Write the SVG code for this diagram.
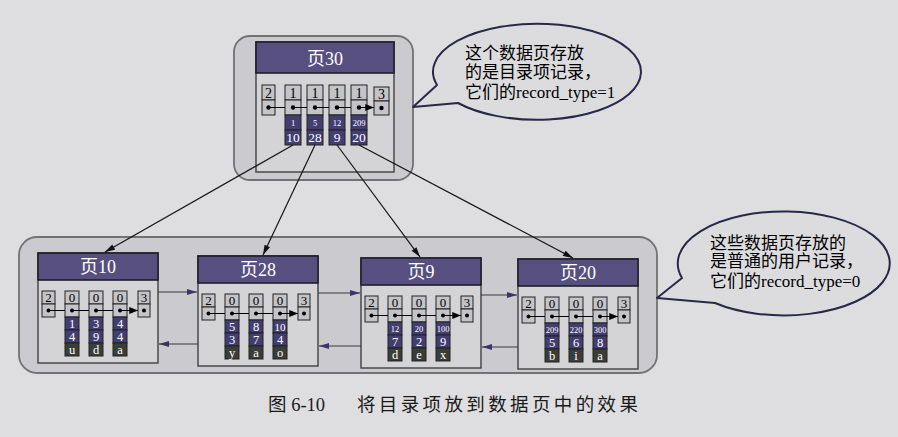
<svg xmlns="http://www.w3.org/2000/svg" width="898" height="437" viewBox="0 0 898 437">
<style>
.bg{fill:#dedee0}
.grp{fill:#cbcbcf;stroke:#727272;stroke-width:1.8}
.page{fill:#d4d4d7;stroke:#4a4a4a;stroke-width:1.5}
.hdr{fill:#574f80;stroke:#1e1e28;stroke-width:1.6}
.ttl{font-family:"Liberation Serif","Noto Sans CJK SC",serif;font-size:18px;fill:#fff;text-anchor:middle}
.c{fill:#c4c4c8;stroke:#222;stroke-width:1}
.pu{fill:#433d72;stroke:#222;stroke-width:1}
.dk{fill:#3b3d39;stroke:#222;stroke-width:1}
.n{font-family:"Liberation Serif",serif;font-size:13px;fill:#000;text-anchor:middle}
.w{font-family:"Liberation Serif",serif;font-size:12.5px;fill:#fff;text-anchor:middle}
.s{font-family:"Liberation Serif",serif;font-size:8.5px;fill:#fff;text-anchor:middle}
.d{fill:#000}
.ptr{stroke:#000;stroke-width:1.2;fill:none;marker-end:url(#pa)}
.lnk{stroke:#151515;stroke-width:1.2;fill:none;marker-end:url(#la)}
.nav{stroke:#3a3a3a;stroke-width:1.2;fill:none;marker-end:url(#na)}
.call{fill:#dcdcdf;stroke:#2a2848;stroke-width:2;stroke-linejoin:round}
.ct{font-family:"Liberation Serif","Noto Sans CJK SC",serif;font-size:17px;fill:#000}
.cap{font-family:"Liberation Serif","Noto Sans CJK SC",serif;font-size:18.5px;fill:#1a1a1a}
</style>
<defs>
<marker id="pa" viewBox="0 0 10 8" refX="10" refY="4" markerWidth="9" markerHeight="7" markerUnits="userSpaceOnUse" orient="auto"><path d="M0,0L10,4L0,8z" fill="#000"/></marker>
<marker id="la" viewBox="0 0 10 6" refX="10" refY="3" markerWidth="11" markerHeight="6" markerUnits="userSpaceOnUse" orient="auto"><path d="M0,0L10,3L0,6z" fill="#111"/></marker>
<marker id="na" viewBox="0 0 10 6" refX="10" refY="3" markerWidth="10" markerHeight="6" markerUnits="userSpaceOnUse" orient="auto"><path d="M0,0L10,3L0,6z" fill="#3b356a"/></marker>
</defs>
<rect class="bg" x="0" y="0" width="898" height="437"/>

<!-- group frames -->
<rect id="topFrame" class="grp" x="234" y="36" width="179" height="144" rx="16"/>
<rect id="bottomFrame" class="grp" x="19" y="237" width="638" height="136" rx="18"/>

<!-- page 30 -->
<g id="page30" transform="translate(256,42)">
<rect class="page" x="0" y="0" width="138" height="130"/>
<rect class="hdr" x="0" y="0" width="138" height="31"/>
<text class="ttl" x="69" y="23">页30</text>
<rect class="c" x="6" y="43" width="13" height="15"/><rect class="c" x="6" y="58" width="13" height="15"/>
<text class="n" x="12.5" y="55.5" style="font-size:14px">2</text><circle class="d" cx="12.5" cy="65.5" r="2.2"/>
<rect class="c" x="29" y="43" width="16" height="15"/><rect class="c" x="29" y="58" width="16" height="15"/><rect class="pu" x="29" y="73" width="16" height="15"/><rect class="pu" x="29" y="88" width="16" height="15"/>
<text class="n" x="37" y="55.5" style="font-size:14px">1</text><circle class="d" cx="37" cy="65.5" r="2.2"/><text class="s" x="37" y="84">1</text><text class="w" x="37" y="100" style="font-size:13.5px">10</text>
<rect class="c" x="51" y="43" width="16" height="15"/><rect class="c" x="51" y="58" width="16" height="15"/><rect class="pu" x="51" y="73" width="16" height="15"/><rect class="pu" x="51" y="88" width="16" height="15"/>
<text class="n" x="59" y="55.5" style="font-size:14px">1</text><circle class="d" cx="59" cy="65.5" r="2.2"/><text class="s" x="59" y="84">5</text><text class="w" x="59" y="100" style="font-size:13.5px">28</text>
<rect class="c" x="73" y="43" width="16" height="15"/><rect class="c" x="73" y="58" width="16" height="15"/><rect class="pu" x="73" y="73" width="16" height="15"/><rect class="pu" x="73" y="88" width="16" height="15"/>
<text class="n" x="81" y="55.5" style="font-size:14px">1</text><circle class="d" cx="81" cy="65.5" r="2.2"/><text class="s" x="81" y="84">12</text><text class="w" x="81" y="100" style="font-size:13.5px">9</text>
<rect class="c" x="95" y="43" width="16" height="15"/><rect class="c" x="95" y="58" width="16" height="15"/><rect class="pu" x="95" y="73" width="16" height="15"/><rect class="pu" x="95" y="88" width="16" height="15"/>
<text class="n" x="103" y="55.5" style="font-size:14px">1</text><circle class="d" cx="103" cy="65.5" r="2.2"/><text class="s" x="103" y="84">209</text><text class="w" x="103" y="100" style="font-size:13.5px">20</text>
<rect class="c" x="118" y="45" width="15" height="14"/><rect class="c" x="118" y="59" width="15" height="14"/>
<text class="n" x="125.5" y="57" style="font-size:14px">3</text><circle class="d" cx="125.5" cy="66" r="2.2"/>
<path class="ptr" d="M12.5,65.5H29M37,65.5H51M59,65.5H73M81,65.5H95M103,65.5H118"/>
</g>

<!-- page 10 -->
<g id="page10" transform="translate(38,253)">
<rect class="page" x="0" y="0" width="120" height="110"/>
<rect class="hdr" x="0" y="0" width="120" height="27"/>
<text class="ttl" x="60" y="20">页10</text>
<rect class="c" x="4" y="38" width="13" height="13"/><rect class="c" x="4" y="51" width="13" height="13"/>
<text class="n" x="10.5" y="49">2</text><circle class="d" cx="10.5" cy="57.5" r="2"/>
<rect class="c" x="27" y="38" width="14" height="13"/><rect class="c" x="27" y="51" width="14" height="13"/><rect class="pu" x="27" y="64" width="14" height="13"/><rect class="pu" x="27" y="77" width="14" height="13"/><rect class="dk" x="27" y="90" width="14" height="13"/>
<text class="n" x="34" y="49">0</text><circle class="d" cx="34" cy="57.5" r="2"/><text class="w" x="34" y="75">1</text><text class="w" x="34" y="88">4</text><text class="w" x="34" y="100.5">u</text>
<rect class="c" x="51" y="38" width="14" height="13"/><rect class="c" x="51" y="51" width="14" height="13"/><rect class="pu" x="51" y="64" width="14" height="13"/><rect class="pu" x="51" y="77" width="14" height="13"/><rect class="dk" x="51" y="90" width="14" height="13"/>
<text class="n" x="58" y="49">0</text><circle class="d" cx="58" cy="57.5" r="2"/><text class="w" x="58" y="75">3</text><text class="w" x="58" y="88">9</text><text class="w" x="58" y="100.5">d</text>
<rect class="c" x="75" y="38" width="14" height="13"/><rect class="c" x="75" y="51" width="14" height="13"/><rect class="pu" x="75" y="64" width="14" height="13"/><rect class="pu" x="75" y="77" width="14" height="13"/><rect class="dk" x="75" y="90" width="14" height="13"/>
<text class="n" x="82" y="49">0</text><circle class="d" cx="82" cy="57.5" r="2"/><text class="w" x="82" y="75">4</text><text class="w" x="82" y="88">4</text><text class="w" x="82" y="100.5">a</text>
<rect class="c" x="100" y="38" width="12" height="13"/><rect class="c" x="100" y="51" width="12" height="13"/>
<text class="n" x="106" y="49">3</text><circle class="d" cx="106" cy="57.5" r="2"/>
<path class="ptr" d="M10.5,57.5H27M34,57.5H51M58,57.5H75M82,57.5H100"/>
</g>

<!-- page 28 -->
<g id="page28" transform="translate(198,256)">
<rect class="page" x="0" y="0" width="120" height="110"/>
<rect class="hdr" x="0" y="0" width="120" height="27"/>
<text class="ttl" x="60" y="20">页28</text>
<rect class="c" x="4" y="38" width="13" height="13"/><rect class="c" x="4" y="51" width="13" height="13"/>
<text class="n" x="10.5" y="49">2</text><circle class="d" cx="10.5" cy="57.5" r="2"/>
<rect class="c" x="27" y="38" width="14" height="13"/><rect class="c" x="27" y="51" width="14" height="13"/><rect class="pu" x="27" y="64" width="14" height="13"/><rect class="pu" x="27" y="77" width="14" height="13"/><rect class="dk" x="27" y="90" width="14" height="13"/>
<text class="n" x="34" y="49">0</text><circle class="d" cx="34" cy="57.5" r="2"/><text class="w" x="34" y="75">5</text><text class="w" x="34" y="88">3</text><text class="w" x="34" y="100.5">y</text>
<rect class="c" x="51" y="38" width="14" height="13"/><rect class="c" x="51" y="51" width="14" height="13"/><rect class="pu" x="51" y="64" width="14" height="13"/><rect class="pu" x="51" y="77" width="14" height="13"/><rect class="dk" x="51" y="90" width="14" height="13"/>
<text class="n" x="58" y="49">0</text><circle class="d" cx="58" cy="57.5" r="2"/><text class="w" x="58" y="75">8</text><text class="w" x="58" y="88">7</text><text class="w" x="58" y="100.5">a</text>
<rect class="c" x="75" y="38" width="14" height="13"/><rect class="c" x="75" y="51" width="14" height="13"/><rect class="pu" x="75" y="64" width="14" height="13"/><rect class="pu" x="75" y="77" width="14" height="13"/><rect class="dk" x="75" y="90" width="14" height="13"/>
<text class="n" x="82" y="49">0</text><circle class="d" cx="82" cy="57.5" r="2"/><text class="w" x="82" y="75" style="font-size:11px">10</text><text class="w" x="82" y="88">4</text><text class="w" x="82" y="100.5">o</text>
<rect class="c" x="100" y="38" width="12" height="13"/><rect class="c" x="100" y="51" width="12" height="13"/>
<text class="n" x="106" y="49">3</text><circle class="d" cx="106" cy="57.5" r="2"/>
<path class="ptr" d="M10.5,57.5H27M34,57.5H51M58,57.5H75M82,57.5H100"/>
</g>

<!-- page 9 -->
<g id="page9" transform="translate(361,258)">
<rect class="page" x="0" y="0" width="120" height="110"/>
<rect class="hdr" x="0" y="0" width="120" height="27"/>
<text class="ttl" x="60" y="20">页9</text>
<rect class="c" x="4" y="38" width="13" height="13"/><rect class="c" x="4" y="51" width="13" height="13"/>
<text class="n" x="10.5" y="49">2</text><circle class="d" cx="10.5" cy="57.5" r="2"/>
<rect class="c" x="27" y="38" width="14" height="13"/><rect class="c" x="27" y="51" width="14" height="13"/><rect class="pu" x="27" y="64" width="14" height="13"/><rect class="pu" x="27" y="77" width="14" height="13"/><rect class="dk" x="27" y="90" width="14" height="13"/>
<text class="n" x="34" y="49">0</text><circle class="d" cx="34" cy="57.5" r="2"/><text class="s" x="34" y="73.5">12</text><text class="w" x="34" y="88">7</text><text class="w" x="34" y="100.5">d</text>
<rect class="c" x="51" y="38" width="14" height="13"/><rect class="c" x="51" y="51" width="14" height="13"/><rect class="pu" x="51" y="64" width="14" height="13"/><rect class="pu" x="51" y="77" width="14" height="13"/><rect class="dk" x="51" y="90" width="14" height="13"/>
<text class="n" x="58" y="49">0</text><circle class="d" cx="58" cy="57.5" r="2"/><text class="s" x="58" y="73.5">20</text><text class="w" x="58" y="88">2</text><text class="w" x="58" y="100.5">e</text>
<rect class="c" x="75" y="38" width="14" height="13"/><rect class="c" x="75" y="51" width="14" height="13"/><rect class="pu" x="75" y="64" width="14" height="13"/><rect class="pu" x="75" y="77" width="14" height="13"/><rect class="dk" x="75" y="90" width="14" height="13"/>
<text class="n" x="82" y="49">0</text><circle class="d" cx="82" cy="57.5" r="2"/><text class="s" x="82" y="73.5">100</text><text class="w" x="82" y="88">9</text><text class="w" x="82" y="100.5">x</text>
<rect class="c" x="100" y="38" width="12" height="13"/><rect class="c" x="100" y="51" width="12" height="13"/>
<text class="n" x="106" y="49">3</text><circle class="d" cx="106" cy="57.5" r="2"/>
<path class="ptr" d="M10.5,57.5H27M34,57.5H51M58,57.5H75M82,57.5H100"/>
</g>

<!-- page 20 -->
<g id="page20" transform="translate(518,259)">
<rect class="page" x="0" y="0" width="120" height="110"/>
<rect class="hdr" x="0" y="0" width="120" height="27"/>
<text class="ttl" x="60" y="20">页20</text>
<rect class="c" x="4" y="38" width="13" height="13"/><rect class="c" x="4" y="51" width="13" height="13"/>
<text class="n" x="10.5" y="49">2</text><circle class="d" cx="10.5" cy="57.5" r="2"/>
<rect class="c" x="27" y="38" width="14" height="13"/><rect class="c" x="27" y="51" width="14" height="13"/><rect class="pu" x="27" y="64" width="14" height="13"/><rect class="pu" x="27" y="77" width="14" height="13"/><rect class="dk" x="27" y="90" width="14" height="13"/>
<text class="n" x="34" y="49">0</text><circle class="d" cx="34" cy="57.5" r="2"/><text class="s" x="34" y="73.5">209</text><text class="w" x="34" y="88">5</text><text class="w" x="34" y="100.5">b</text>
<rect class="c" x="51" y="38" width="14" height="13"/><rect class="c" x="51" y="51" width="14" height="13"/><rect class="pu" x="51" y="64" width="14" height="13"/><rect class="pu" x="51" y="77" width="14" height="13"/><rect class="dk" x="51" y="90" width="14" height="13"/>
<text class="n" x="58" y="49">0</text><circle class="d" cx="58" cy="57.5" r="2"/><text class="s" x="58" y="73.5">220</text><text class="w" x="58" y="88">6</text><text class="w" x="58" y="100.5">i</text>
<rect class="c" x="75" y="38" width="14" height="13"/><rect class="c" x="75" y="51" width="14" height="13"/><rect class="pu" x="75" y="64" width="14" height="13"/><rect class="pu" x="75" y="77" width="14" height="13"/><rect class="dk" x="75" y="90" width="14" height="13"/>
<text class="n" x="82" y="49">0</text><circle class="d" cx="82" cy="57.5" r="2"/><text class="s" x="82" y="73.5">300</text><text class="w" x="82" y="88">8</text><text class="w" x="82" y="100.5">a</text>
<rect class="c" x="100" y="38" width="12" height="13"/><rect class="c" x="100" y="51" width="12" height="13"/>
<text class="n" x="106" y="49">3</text><circle class="d" cx="106" cy="57.5" r="2"/>
<path class="ptr" d="M10.5,57.5H27M34,57.5H51M58,57.5H75M82,57.5H100"/>
</g>

<!-- connectors -->
<g id="connectors">
<line class="lnk" x1="293" y1="145" x2="105" y2="252"/>
<line class="lnk" x1="315" y1="145" x2="263" y2="255"/>
<line class="lnk" x1="337" y1="145" x2="420" y2="257"/>
<line class="lnk" x1="359" y1="145" x2="573" y2="258"/>
<line class="nav" x1="158" y1="292" x2="197" y2="292"/>
<line class="nav" x1="198" y1="344" x2="159" y2="344"/>
<line class="nav" x1="318" y1="293" x2="360" y2="293"/>
<line class="nav" x1="361" y1="346" x2="319" y2="346"/>
<line class="nav" x1="481" y1="295" x2="517" y2="295"/>
<line class="nav" x1="518" y1="347" x2="482" y2="347"/>
</g>

<!-- callouts -->
<g id="callout1">
<path class="call" d="M437,85L413,107L458,103A104 48 0 1 0 437,85Z"/>
<text class="ct" x="465" y="59">这个数据页存放</text>
<text class="ct" x="465" y="78">的是目录项记录，</text>
<text class="ct" x="465" y="98">它们的record_type=1</text>
</g>
<g id="callout2">
<path class="call" d="M682,278L657,298L715,303A106 52 0 1 0 682,278Z"/>
<text class="ct" x="710" y="249">这些数据页存放的</text>
<text class="ct" x="710" y="267">是普通的用户记录，</text>
<text class="ct" x="710" y="287">它们的record_type=0</text>
</g>

<g id="caption">
<text class="cap" x="268" y="411">图 6-10</text>
<text class="cap" x="357" y="411" textLength="281" lengthAdjust="spacing">将目录项放到数据页中的效果</text>
</g>
</svg>
